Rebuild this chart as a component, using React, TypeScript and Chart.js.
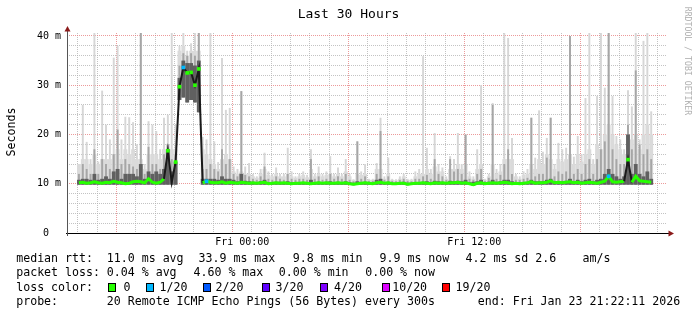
import React, { useEffect, useRef } from 'react';
import { Chart, registerables } from 'chart.js';

Chart.register(...registerables);

// ---- data (ms), one value per 12-minute slot, starting Thu ~15:27 ----
const startHour = -8.55; // hours relative to Fri 00:00
const stepHours = 0.2;
const viewEndHour = 21.45;

// lowest ping of each slot
const minA = [
  9.8, 9.8, 9.8, 9.8, 9.8, 9.8, 9.8, 9.8, 9.8, 9.8,
  9.8, 9.8, 9.8, 9.8, 9.8, 9.8, 9.8, 9.8, 9.8, 9.8,
  9.8, 9.8, 9.8, 9.8, 9.8, 9.8, 27, 27.5, 26.5, 27,
  26.5, 24.5, 9.8, 9.8, 9.8, 9.8, 9.8, 9.8, 9.8, 9.8,
  9.8, 9.8, 9.8, 9.8, 9.8, 9.8, 9.8, 9.8, 9.8, 9.8,
  9.8, 9.8, 9.8, 9.8, 9.8, 9.8, 9.8, 9.8, 9.8, 9.8,
  9.8, 9.8, 9.8, 9.8, 9.8, 9.8, 9.8, 9.8, 9.8, 9.8,
  9.8, 9.7, 9.8, 9.8, 9.8, 9.8, 9.8, 9.8, 9.8, 9.8,
  9.8, 9.8, 9.8, 9.8, 9.8, 9.7, 9.8, 9.8, 9.8, 9.8,
  9.8, 9.8, 9.8, 9.8, 9.8, 9.8, 9.8, 9.8, 9.8, 9.8,
  9.8, 9.8, 9.6, 9.8, 9.8, 9.8, 9.8, 9.8, 9.8, 9.8,
  9.8, 9.8, 9.8, 9.8, 9.8, 9.8, 9.8, 9.8, 9.8, 9.8,
  9.8, 9.8, 9.8, 9.8, 9.8, 9.8, 9.8, 9.8, 9.8, 9.8,
  9.8, 9.8, 9.8, 9.8, 9.8, 9.8, 9.8, 9.8, 9.8, 9.8,
  9.8, 9.8, 9.8, 9.8, 9.8, 9.8, 9.8, 9.8, 9.8,
];

// highest ping of each slot (thin light spikes)
const maxA = [
  14, 26, 18.5, 15, 40.6, 14.5, 28.9, 22, 19, 35.6,
  38, 19, 23.6, 23.5, 22.5, 18, 40.6, 14, 22.7, 22,
  20.7, 17, 23.4, 24, 40.6, 22, 38, 40.6, 37, 38.5,
  40.6, 40.6, 19.5, 19, 40.6, 18.6, 14.4, 35.5, 25, 25.4,
  13.5, 13, 28.8, 13.5, 14.2, 12, 11.5, 13, 16.3, 12.5,
  12, 13.3, 12, 12, 17.3, 12.5, 11.5, 12, 12.5, 11.8,
  17, 12, 13.5, 12, 12.5, 15.6, 12, 13.3, 12, 15,
  12, 10.9, 18.6, 12.5, 14, 11, 11, 14.2, 23.4, 11.5,
  15.3, 11, 10.9, 11.5, 12, 11, 11, 12.5, 13, 35.9,
  17.3, 13, 20.3, 14, 13.3, 11.5, 15.6, 15, 20.3, 14,
  20, 12.5, 11.5, 17, 30, 11, 12, 26.4, 13, 14,
  40.6, 39.6, 19.3, 12, 11.5, 12.5, 13, 23.4, 15.3, 24.9,
  16.5, 19.3, 23.4, 14, 18.3, 17, 17.3, 40, 15.5, 19.7,
  16, 27.4, 40.6, 15, 27.8, 40.6, 29.5, 40.6, 27.8, 19.7,
  19, 17, 29, 25.7, 40.6, 19, 39, 40.6, 24.7,
];

// upper edge of the continuous light smoke body
const lightA = [
  14, 15, 15, 14, 16, 14, 15, 15, 15, 16,
  17, 15, 17, 16, 17, 15, 15, 13, 16, 16,
  16, 15, 17, 18, 17, 17, 37, 38, 36, 37,
  37, 37, 17, 16, 15, 14, 13, 15, 16, 15,
  12.5, 12, 12.5, 12, 12, 11.5, 11.2, 12, 13, 11.8,
  11.5, 12, 11.5, 11.5, 12, 11.5, 11.2, 11.5, 11.8, 11.3,
  13, 11.5, 12, 11.5, 11.8, 12, 11.5, 12, 11.5, 12.5,
  11.5, 10.8, 12, 11.8, 12, 10.8, 10.8, 13, 13, 11,
  12, 10.8, 10.7, 11, 11.5, 10.8, 10.8, 11.5, 12, 12,
  13, 12, 13.5, 12.5, 12.5, 11, 13, 13, 14, 13,
  14, 11.5, 11, 13, 14, 10.8, 11.5, 14, 12, 12.5,
  15, 15, 15, 11.5, 11, 11.8, 12, 14, 13, 15,
  14, 16, 15, 13, 15, 14.5, 15, 16, 14, 16,
  14.5, 16, 17, 14, 18, 17, 20, 22, 20, 18,
  17, 16, 20, 19, 20, 17, 20, 22, 20,
];

const midA = [
  12, 14, 13, 12, 17, 12, 15, 14, 13, 16,
  21, 14, 15, 14, 13.5, 13, 40.6, 12, 17.5, 14,
  14, 13, 16, 18, 15, 16, 34, 36.5, 36, 36.5,
  36, 40.6, 13, 13, 14, 13, 12.5, 17, 14, 15,
  12, 11.5, 28.8, 11.8, 11.5, 11, 10.8, 11.5, 13.5, 11,
  10.8, 11.5, 11, 10.8, 12, 11, 10.8, 11, 11, 10.8,
  15, 11, 11.5, 10.8, 11, 12, 11, 11.5, 11, 12,
  10.8, 10.5, 18.6, 11, 11.5, 10.6, 10.6, 12, 20.7, 10.8,
  11.5, 10.6, 10.5, 10.8, 11, 10.6, 10.5, 11, 11, 11.5,
  11.8, 11, 15, 12, 11.5, 10.8, 15, 12.5, 13, 12,
  20, 11, 10.8, 12, 13, 10.6, 11.2, 26, 11, 11.8,
  14, 17, 12, 10.8, 10.8, 11, 11.2, 23.4, 11.5, 12,
  12, 15.3, 23.4, 11.5, 12.5, 12, 12.5, 40, 12, 13,
  12, 14, 15, 12, 15, 17, 18.6, 40.6, 17, 15,
  14, 14, 22, 17, 33, 18, 16, 17, 15,
];

const darkA = [
  10.8, 11, 11, 10.8, 12, 10.8, 11, 11.5, 11, 12.5,
  13, 11, 12, 12, 12, 11.5, 14, 11, 12.5, 12,
  12.5, 12, 13, 17, 12.5, 14.5, 31.5, 35, 34.5, 34.5,
  34, 35, 11, 11, 11, 11, 10.8, 11.5, 11, 11,
  10.8, 10.5, 12, 10.6, 10.5, 10.4, 10.3, 10.5, 10.8, 10.3,
  10.3, 10.4, 10.4, 10.3, 10.5, 10.3, 10.3, 10.3, 10.3, 10.3,
  10.8, 10.3, 10.4, 10.3, 10.4, 10.5, 10.3, 10.4, 10.3, 10.5,
  10.3, 10.2, 10.5, 10.3, 10.4, 10.2, 10.2, 10.8, 11, 10.3,
  10.4, 10.2, 10.2, 10.3, 10.4, 10.2, 10.2, 10.3, 10.3, 10.4,
  10.5, 10.3, 10.6, 10.5, 10.4, 10.3, 10.6, 10.5, 10.6, 10.5,
  10.8, 10.3, 10.4, 10.5, 10.8, 10.2, 10.4, 10.8, 10.4, 10.5,
  10.8, 10.8, 10.5, 10.3, 10.3, 10.3, 10.4, 10.8, 10.5, 10.5,
  10.5, 10.8, 11, 10.5, 10.5, 10.5, 10.6, 11, 10.5, 10.8,
  10.5, 10.8, 11, 10.5, 10.8, 11, 12, 13, 12, 11.5,
  11, 11.5, 20, 12, 14, 12, 11.5, 12.5, 11,
];

const medA = [
  10.2, 10.3, 10.1, 10.2, 10.4, 10.2, 10.1, 10.3, 10.2, 10.5,
  10.3, 10.2, 10.0, 10.1, 10.4, 10.5, 10.4, 10.2, 11.0, 10.3,
  10.1, 10.3, 11.0, 16.7, 10.3, 14.4, 29.7, 33.6, 32.5, 32.6,
  30.0, 33.3, 10.2, 10.5, 10.3, 10.2, 10.2, 10.4, 10.1, 10.3,
  10.2, 10.1, 10.3, 10.2, 10.1, 10.2, 10.1, 10.2, 10.3, 10.0,
  10.1, 10.2, 10.1, 10.2, 10.1, 10.0, 10.1, 10.1, 10.2, 10.1,
  10.0, 10.1, 10.2, 10.1, 10.2, 10.1, 10.1, 10.2, 10.1, 10.2,
  10.0, 9.9, 10.0, 10.1, 10.2, 10.1, 10.0, 10.2, 10.3, 10.1,
  10.2, 10.0, 10.0, 10.1, 10.1, 9.9, 10.0, 10.1, 10.1, 10.2,
  10.1, 10.0, 10.2, 10.1, 10.2, 10.1, 10.2, 10.2, 10.3, 10.1,
  10.2, 10.0, 9.8, 10.1, 10.2, 10.0, 10.1, 10.2, 10.1, 10.2,
  10.3, 10.2, 10.0, 10.1, 10.0, 10.1, 10.2, 10.4, 10.1, 10.2,
  10.2, 10.3, 10.6, 10.2, 10.3, 10.2, 10.3, 10.4, 10.2, 10.3,
  10.1, 10.2, 10.3, 10.2, 10.1, 10.3, 10.5, 11.5, 10.4, 10.3,
  10.4, 10.5, 14.9, 10.3, 11.5, 10.6, 10.5, 10.4, 10.3,
];

// slots whose median had 1/20 packet loss
const loss1Idx = [27, 33, 137];

// axes
const xGridHours = Array.from({ length: 30 }, (_, k) => -8 + k);
const xLabelHours = [0, 12];
const xLabelTexts = ['Fri 00:00', 'Fri 12:00'];
const yGridValues = Array.from({ length: 21 }, (_, k) => k * 2);
const yLabelValues = [0, 10, 20, 30, 40];
const yLabelTexts = ['0  ', '10 m', '20 m', '30 m', '40 m'];
const yMax = 40.6;

// legend
const lossColors = ['#26ff00', '#00b8ff', '#0059ff', '#5e00ff', '#7e00ff', '#dd00ff', '#ff0000'];
const lossLabels = ['0', '1/20', '2/20', '3/20', '4/20', '10/20', '19/20'];

const MONO = "'DejaVu Sans Mono', monospace";
const GREEN = '#26ff00';

const arrowPlugin = {
  id: 'rrdAxes',
  afterDraw(chart: any) {
    const { ctx, chartArea } = chart;
    const l = chartArea.left;
    const b = chartArea.bottom;
    ctx.save();
    ctx.lineWidth = 1;
    ctx.strokeStyle = '#000';
    ctx.beginPath();
    ctx.moveTo(l - 1, b + 0.5);
    ctx.lineTo(chartArea.right + 3, b + 0.5);
    ctx.stroke();
    ctx.strokeStyle = '#555';
    ctx.beginPath();
    ctx.moveTo(l + 0.5, b + 3);
    ctx.lineTo(l + 0.5, chartArea.top - 2);
    ctx.stroke();
    ctx.fillStyle = '#8b1a1a';
    ctx.beginPath();
    ctx.moveTo(l + 0.5, chartArea.top - 7);
    ctx.lineTo(l + 3.5, chartArea.top - 1.5);
    ctx.lineTo(l - 2.5, chartArea.top - 1.5);
    ctx.closePath();
    ctx.fill();
    ctx.beginPath();
    ctx.moveTo(chartArea.right + 7, b + 0.5);
    ctx.lineTo(chartArea.right + 1.5, b - 2.5);
    ctx.lineTo(chartArea.right + 1.5, b + 3.5);
    ctx.closePath();
    ctx.fill();
    ctx.restore();
  },
};

export default function App() {
  const canvasRef = useRef<HTMLCanvasElement | null>(null);

  useEffect(() => {
    const canvas = canvasRef.current;
    if (!canvas) return;
    const times = medA.map((_, i) => startHour + stepHours * (i + 0.5));
    const band = (lo: number[], hi: number[]) => times.map((t, i) => ({ x: t, y: [lo[i], hi[i]] }));
    const major = 'rgba(230, 120, 120, 0.75)';
    const minor = 'rgba(175, 175, 175, 0.75)';
    const steep = (c: any) =>
      Math.abs(c.p1.parsed.y - c.p0.parsed.y) > 1.5 || c.p0.parsed.y > 12.5 || c.p1.parsed.y > 12.5;

    const chart = new Chart(canvas, {
      data: {
        datasets: [
          {
            type: 'line',
            data: times.map((t, i) => ({ x: t, y: medA[i] })),
            borderColor: GREEN,
            borderWidth: 3,
            tension: 0,
            order: 0,
            segment: {
              borderColor: (c: any) => (steep(c) ? '#1a1a1a' : GREEN),
              borderWidth: (c: any) => (steep(c) ? 2 : 3),
            },
            pointStyle: 'rect',
            pointRadius: (c: any) => (loss1Idx.includes(c.dataIndex) || medA[c.dataIndex] > 12 ? 2.6 : 0),
            pointBorderWidth: 0,
            pointBackgroundColor: (c: any) => (loss1Idx.includes(c.dataIndex) ? lossColors[1] : GREEN),
          } as any,
          {
            type: 'bar',
            data: band(minA, darkA),
            backgroundColor: '#606060',
            barPercentage: 1,
            order: 1,
          } as any,
          {
            type: 'bar',
            data: band(minA, midA),
            backgroundColor: '#a6a6a6',
            barPercentage: 0.5,
            order: 2,
          } as any,
          {
            type: 'bar',
            data: band(minA, lightA),
            backgroundColor: '#dadada',
            barPercentage: 1,
            order: 3,
          } as any,
          {
            type: 'bar',
            data: band(minA, maxA),
            backgroundColor: '#d6d6d6',
            barPercentage: 0.5,
            order: 4,
          } as any,
        ],
      },
      options: {
        responsive: false,
        animation: false,
        devicePixelRatio: 1,
        layout: { padding: { left: 0, right: 30, top: 33, bottom: 0 } },
        datasets: {
          bar: {
            grouped: false,
            categoryPercentage: 1,
            borderWidth: 0,
            inflateAmount: 0,
          },
        } as any,
        plugins: {
          legend: { display: false },
          tooltip: { enabled: false },
          title: { display: false },
        },
        scales: {
          x: {
            type: 'linear',
            min: startHour,
            max: viewEndHour,
            afterBuildTicks: (s: any) => {
              s.ticks = xGridHours.map((v) => ({ value: v }));
            },
            afterFit: (s: any) => {
              s.height = 82;
            },
            grid: {
              color: (c: any) => (c.tick && c.tick.value % 6 === 0 ? major : minor),
              lineWidth: 1,
              drawTicks: false,
            },
            border: { display: false, dash: [1, 1] },
            ticks: {
              autoSkip: false,
              maxRotation: 0,
              padding: 3,
              color: '#000',
              font: { family: MONO, size: 10 },
              callback: (v: any) => {
                const k = xLabelHours.indexOf(Number(v));
                return k >= 0 ? xLabelTexts[k] : '';
              },
            },
          },
          y: {
            type: 'linear',
            min: 0,
            max: yMax,
            afterBuildTicks: (s: any) => {
              s.ticks = yGridValues.map((v) => ({ value: v }));
            },
            afterFit: (s: any) => {
              s.width = 67;
            },
            grid: {
              color: (c: any) => (c.tick && c.tick.value % 10 === 0 ? major : minor),
              lineWidth: 1,
              drawTicks: false,
            },
            border: { display: false, dash: [1, 1] },
            ticks: {
              autoSkip: false,
              padding: 6,
              color: '#000',
              font: { family: MONO, size: 10 },
              callback: (v: any) => {
                const k = yLabelValues.indexOf(Number(v));
                return k >= 0 ? yLabelTexts[k] : '';
              },
            },
          },
        },
      } as any,
      plugins: [arrowPlugin],
    });
    return () => chart.destroy();
  }, []);

  const textStyle = (x: number, baseline: number): React.CSSProperties => ({
    position: 'absolute',
    left: x - 0.5,
    top: baseline - 11.02,
    fontFamily: MONO,
    fontSize: '11.6px',
    lineHeight: '14px',
    whiteSpace: 'pre',
    color: '#000',
  });

  const line1: [string, number][] = [
    ['median rtt:', 16.7],
    ['11.0 ms avg', 107.3],
    ['33.9 ms max', 199],
    ['9.8 ms min', 293.3],
    ['9.9 ms now', 380],
    ['4.2 ms sd', 466],
    ['2.6', 535.7],
    ['am/s', 583],
  ];
  const line2: [string, number][] = [
    ['packet loss:', 16.7],
    ['0.04 % avg', 107.3],
    ['4.60 % max', 194],
    ['0.00 % min', 279.3],
    ['0.00 % now', 365.7],
  ];
  const boxX = [108, 145.7, 203.3, 261.7, 320, 382.3, 441.7];
  const boxLabelX = [124, 160, 216, 276, 334.5, 392.7, 456];
  const line4: [string, number][] = [
    ['probe:', 16.7],
    ['20 Remote ICMP Echo Pings (56 Bytes) every 300s', 107.3],
    ['end: Fri Jan 23 21:22:11 2026', 478.3],
  ];

  return (
    <div
      style={{
        position: 'absolute',
        left: 0,
        top: 0,
        width: 697,
        height: 315,
        background: '#fff',
        overflow: 'hidden',
      }}
    >
      <canvas ref={canvasRef} width={697} height={315} style={{ position: 'absolute', left: 0, top: 0 }} />
      <div
        style={{
          position: 'absolute',
          left: 0,
          top: 5.8,
          width: 697,
          textAlign: 'center',
          fontFamily: MONO,
          fontSize: '13px',
          lineHeight: '16px',
          color: '#000',
        }}
      >
        Last 30 Hours
      </div>
      <div
        style={{
          position: 'absolute',
          left: 11 - 40,
          top: 132 - 7,
          width: 80,
          height: 14,
          lineHeight: '14px',
          textAlign: 'center',
          fontFamily: MONO,
          fontSize: '11.6px',
          color: '#000',
          transform: 'rotate(-90deg)',
        }}
      >
        Seconds
      </div>
      <div
        style={{
          position: 'absolute',
          left: 687.8 - 60,
          top: 60.5 - 5,
          width: 120,
          height: 10,
          lineHeight: '10px',
          textAlign: 'center',
          fontFamily: MONO,
          fontSize: '8.2px',
          color: '#b0b0b0',
          whiteSpace: 'pre',
          transform: 'rotate(90deg)',
        }}
      >
        RRDTOOL / TOBI OETIKER
      </div>
      {line1.map(([t, x]) => (
        <span key={'a' + t} style={textStyle(x, 262.3)}>
          {t}
        </span>
      ))}
      {line2.map(([t, x]) => (
        <span key={'b' + t + x} style={textStyle(x, 276.5)}>
          {t}
        </span>
      ))}
      <span style={textStyle(16.7, 290.7)}>loss color:</span>
      {lossColors.map((c, k) => (
        <React.Fragment key={'c' + k}>
          <div
            style={{
              position: 'absolute',
              left: boxX[k],
              top: 283,
              width: 8,
              height: 9,
              boxSizing: 'border-box',
              border: '1px solid #000',
              background: c,
            }}
          />
          <span style={textStyle(boxLabelX[k], 290.7)}>{lossLabels[k]}</span>
        </React.Fragment>
      ))}
      {line4.map(([t, x]) => (
        <span key={'d' + t} style={textStyle(x, 305)}>
          {t}
        </span>
      ))}
    </div>
  );
}
